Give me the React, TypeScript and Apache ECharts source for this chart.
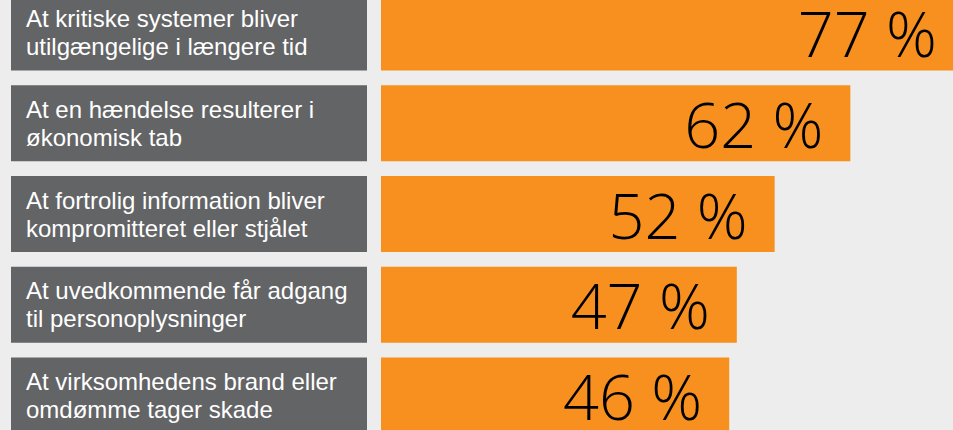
import React, { useEffect, useRef } from "react";
import * as echarts from "echarts";

const categories: string[] = [
  "At kritiske systemer bliver\nutilgængelige i længere tid",
  "At en hændelse resulterer i\nøkonomisk tab",
  "At fortrolig information bliver\nkompromitteret eller stjålet",
  "At uvedkommende får adgang\ntil personoplysninger",
  "At virksomhedens brand eller\nomdømme tager skade",
];
const values: number[] = [77, 62, 52, 47, 46];

export default function App() {
  const ref = useRef<HTMLDivElement>(null);
  useEffect(() => {
    if (!ref.current) return;
    const chart = echarts.init(ref.current, undefined, { renderer: "svg" });
    chart.setOption({
      animation: false,
      backgroundColor: "#ecedec",
      grid: { left: 381, top: 0, height: 454, width: 605.6 },
      xAxis: {
        type: "value",
        min: 0,
        max: 80,
        show: false,
      },
      yAxis: {
        type: "category",
        data: categories,
        inverse: true,
        axisLine: { show: false },
        axisTick: { show: false },
        splitLine: { show: false },
        axisLabel: {
          align: "left",
          margin: 370,
          width: 326,
          backgroundColor: "#636466",
          color: "#ffffff",
          fontFamily: "Liberation Sans, Arial, sans-serif",
          fontSize: 24,
          lineHeight: 28,
          padding: [10, 15, 10, 15],
        },
      },
      series: [
        {
          type: "bar",
          data: values,
          barWidth: 76,
          itemStyle: { color: "#f7901e" },
          label: {
            show: true,
            position: "insideRight",
            distance: 27,
            formatter: "{c} %",
            color: "#000000",
            fontFamily: "Open Sans, Roboto, Liberation Sans, sans-serif",
            fontWeight: 300,
            fontSize: 63,
            lineHeight: 58,
          },
        },
      ],
    });
    return () => chart.dispose();
  }, []);
  return (
    <div
      style={{
        position: "fixed",
        left: 0,
        top: 0,
        width: 953,
        height: 430,
        overflow: "hidden",
        background: "#ecedec",
      }}
    >
      <div
        ref={ref}
        style={{ position: "absolute", left: 0, top: -13, width: 1000, height: 454 }}
      />
    </div>
  );
}
